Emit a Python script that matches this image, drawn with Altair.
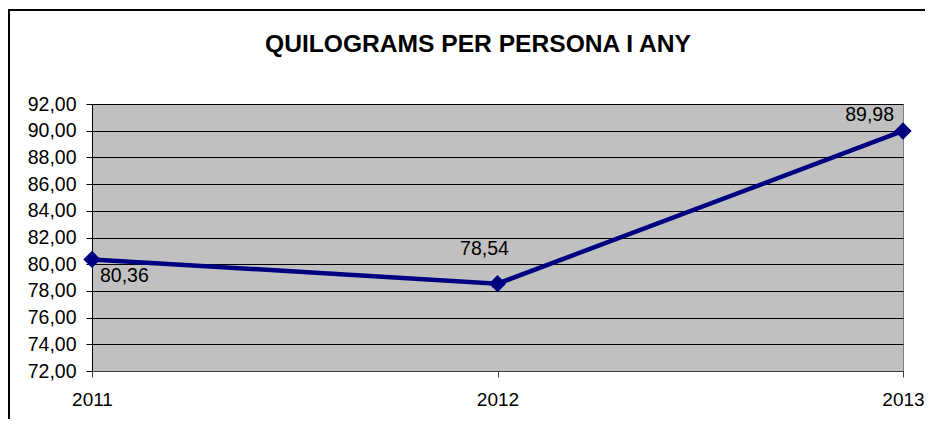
import altair as alt
import pandas as pd

years = ["2011", "2012", "2013"]
kg = [80.36, 78.54, 89.98]
title_text = "QUILOGRAMS PER PERSONA I ANY"
y_ticks = [72, 74, 76, 78, 80, 82, 84, 86, 88, 90, 92]

df = pd.DataFrame({"year": years, "kg": kg})
one = pd.DataFrame({"t": [title_text]})

FONT = "Liberation Sans"
W, H = 811, 267

x_enc = alt.X("year:N", scale=alt.Scale(type="point", padding=0),
              axis=alt.Axis(title=None, labelAngle=0, labelFontSize=19, labelFont=FONT,
                            labelColor="black", tickSize=6, tickColor="#404040",
                            domainColor="#404040", labelPadding=13, grid=False))
y_enc = alt.Y("kg:Q", scale=alt.Scale(domain=[72, 92], nice=False, zero=False),
              axis=alt.Axis(title=None, values=y_ticks,
                            labelExpr="replace(format(datum.value, '.2f'), '.', ',')",
                            labelFontSize=19.5, labelFont=FONT, labelColor="black",
                            tickSize=6, tickColor="black", domainColor="black",
                            labelPadding=10, grid=True, gridColor="black",
                            gridOpacity=1, gridWidth=1))

base = alt.Chart(df).encode(x=x_enc, y=y_enc)

line = base.mark_line(color="#000080", strokeWidth=4.5)
pts = base.mark_point(shape="diamond", filled=True, size=300, color="#000080", opacity=1)

lab = base.transform_calculate(lbl="replace(format(datum.kg, '.2f'), '.', ',')")
t1 = lab.transform_filter("datum.year == '2011'").mark_text(
    align="left", baseline="middle", dx=8, dy=17, fontSize=19.5, font=FONT, color="black"
).encode(text="lbl:N")
t2 = lab.transform_filter("datum.year == '2012'").mark_text(
    align="center", baseline="middle", dx=-13, dy=-35, fontSize=19.5, font=FONT, color="black"
).encode(text="lbl:N")
t3 = lab.transform_filter("datum.year == '2013'").mark_text(
    align="right", baseline="middle", dx=-9, dy=-16, fontSize=19.5, font=FONT, color="black"
).encode(text="lbl:N")

border = alt.Chart(one).mark_rect(fill=None, stroke="black", strokeWidth=2).encode(
    x=alt.value(-83), y=alt.value(-94), x2=alt.value(W + 80), y2=alt.value(H + 90)
)
title = alt.Chart(one).mark_text(
    align="center", baseline="alphabetic", fontSize=24.6, fontWeight="bold", font=FONT, color="black"
).encode(x=alt.value(386), y=alt.value(-52), text="t:N")

chart = alt.layer(border, line, pts, t1, t2, t3, title).properties(
    width=W, height=H,
    autosize=alt.AutoSizeParams(type="none"),
    padding={"left": 84, "top": 96, "right": 22, "bottom": 48},
    background="white",
).configure_view(fill="#C0C0C0", stroke="#808080", strokeWidth=1)

chart.save("out.html", embed_options={"renderer": "svg", "actions": False})
